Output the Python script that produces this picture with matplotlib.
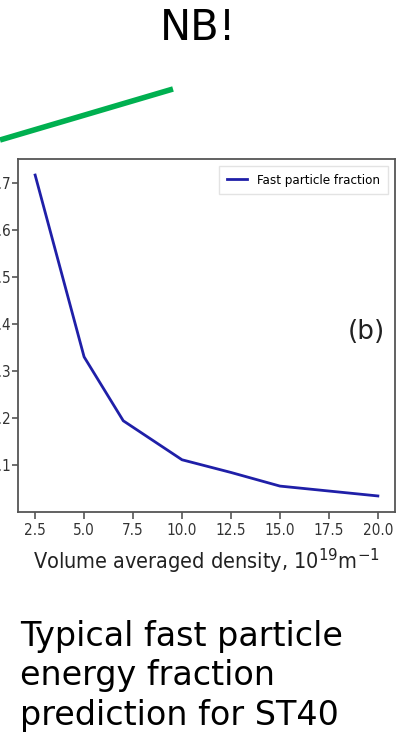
import matplotlib
matplotlib.use("Agg")
import matplotlib.pyplot as plt
from matplotlib.lines import Line2D

density = [2.5, 5.0, 7.0, 10.0, 12.5, 15.0, 20.0]
fast_fraction = [0.717, 0.330, 0.194, 0.111, 0.084, 0.055, 0.034]
xticks = [2.5, 5.0, 7.5, 10.0, 12.5, 15.0, 17.5, 20.0]
yticks = [0.1, 0.2, 0.3, 0.4, 0.5, 0.6, 0.7]

narrow = dict(family='DejaVu Sans', stretch='condensed')

fig = plt.figure(figsize=(3.97, 7.42), dpi=100)
ax = fig.add_axes([18 / 397, 1 - 512 / 742, 377 / 397, 353 / 742])

ax.plot(density, fast_fraction, color='#1f1fa8', lw=2, label='Fast particle fraction')
ax.set_xticks(xticks)
ax.set_yticks(yticks)
ax.set_xticklabels([f'{v:.1f}' for v in xticks], fontsize=11, color='#333333', **narrow)
ax.set_yticklabels([f'{v:.1f}' for v in yticks], fontsize=11, color='#333333', **narrow)
ax.tick_params(axis='x', length=5, width=1.2, color='#555555', pad=3)
ax.tick_params(axis='y', length=4, width=1.2, color='#555555', pad=1)
for s in ax.spines.values():
    s.set_color('#555555')
    s.set_linewidth(1.3)

ax.set_xlabel('Volume averaged density, 10$^{19}$m$^{-1}$', fontsize=15.5,
              color='#222222', labelpad=6, **narrow)
ax.legend(loc='upper right', prop={'family': 'DejaVu Sans', 'stretch': 'condensed', 'size': 9.5},
          handlelength=1.5, borderpad=0.6, fancybox=False, edgecolor='#dddddd',
          borderaxespad=0.5)
ax.text(0.973, 0.51, '(b)', transform=ax.transAxes, ha='right', va='center',
        fontsize=19, family='DejaVu Sans', color='#222222')

# slide decorations
fig.text(0.5, 1 - 28 / 742, 'NB!', ha='center', va='center', fontsize=30,
         family='DejaVu Sans', color='black')
fig.add_artist(Line2D([0, 173 / 397], [1 - 140 / 742, 1 - 89 / 742],
                      transform=fig.transFigure, color='#00b050', lw=4, solid_capstyle='butt'))
fig.text(20 / 397, 1 - 725 / 742, 'Typical fast particle\nenergy fraction\nprediction for ST40',
         ha='left', va='baseline', fontsize=24, family='DejaVu Sans', color='black',
         linespacing=1.25)

fig.savefig('out.png', dpi=100)
